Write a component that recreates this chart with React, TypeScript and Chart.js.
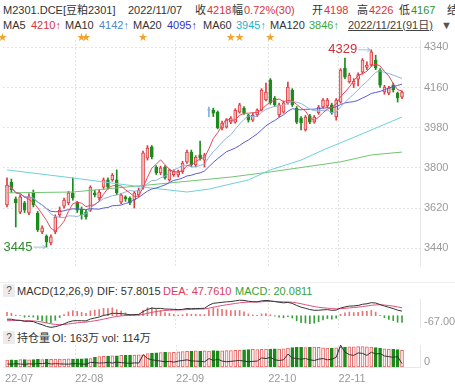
import React, { useEffect, useRef } from 'react';
import { Chart, registerables } from 'chart.js';
Chart.register(...registerables);

const FONT = '"Liberation Sans", Arial, "Noto Sans CJK SC", sans-serif';

// ---------- data ----------
const OPEN = [3634,3737,3661,3602,3643,3598,3688,3598,3513,3495, 3464,3513,3589,3629,3643,3688,3643,3615,3602,3611, 3688,3665,3714,3746,3746,3746,3647,3670,3665,3656, 3679,3714,3844,3894,3804,3777,3804,3746,3770,3768, 3782,3826,3871,3813,3858,3835,4059,4059,4050,3979, 3983,4005,4005,4050,4068,4037,4014,4037,4059,4104, 4194,4113,4037,4050,4091,4149,4068,4023,3970,4032, 4005,4046,4073,4078,4082,4028,4095,4247,4185,4175, 4198,4229,4250,4261,4283,4238,4140,4135,4171,4135, 4117];
const HIGH = [3755,3750,3670,3680,3650,3685,3701,3605,3540,3500, 3500,3590,3625,3665,3695,3755,3650,3625,3610,3720, 3700,3700,3755,3755,3775,3791,3685,3675,3670,3695, 3710,3875,3900,3900,3810,3808,3810,3795,3792,3790, 3830,3880,3880,3855,3920,3865,4073,4068,4055,4010, 4020,4030,4065,4090,4075,4040,4045,4065,4155,4180, 4200,4120,4090,4100,4185,4155,4075,4030,4035,4040, 4035,4080,4110,4112,4090,4110,4245,4292,4225,4200, 4226,4290,4275,4329,4305,4245,4170,4165,4180,4140, 4145];
const LOW = [3625,3690,3535,3595,3600,3590,3625,3515,3505,3445, 3455,3505,3580,3620,3635,3655,3600,3570,3570,3605, 3670,3655,3705,3705,3740,3680,3640,3650,3635,3620, 3670,3705,3835,3840,3770,3770,3750,3740,3762,3760, 3775,3820,3805,3805,3835,3804,4028,4030,3975,3970, 3978,3998,4000,4045,4040,4005,4008,4030,4055,4100, 4085,4075,4030,4045,4085,4075,3998,3970,3965,3998, 4000,4040,4068,4070,4040,4014,4090,4200,4180,4160, 4167,4220,4240,4255,4240,4160,4130,4128,4140,4095, 4110];
const CLOSE = [3723,3701,3643,3670,3611,3670,3634,3522,3531,3468, 3491,3580,3611,3656,3688,3665,3611,3590,3580,3714, 3679,3692,3746,3714,3768,3688,3679,3661,3643,3688, 3701,3867,3889,3849,3777,3800,3755,3791,3785,3782, 3822,3871,3813,3849,3844,3858,4061,4045,3979,4001, 4014,4023,4059,4082,4046,4014,4037,4059,4149,4140, 4091,4082,4082,4091,4162,4082,4005,4001,4028,4005, 4028,4073,4104,4104,4046,4104,4238,4207,4216,4188, 4218,4283,4261,4320,4247,4171,4162,4158,4149,4113, 4140];
// open interest and volume, in 万
const OI = [58,60,59,61,62,60,61,63,62,64, 64,65,66,65,67,66,68,67,69,70, 80,85,88,90,91,92,95,96,98,97, 99,100,108,112,115,117,118,116,119,122, 124,126,128,130,129,131,128,132,130,131, 133,132,135,137,138,140,142,141,143,145, 144,146,145,147,152,155,157,158,156,157, 159,158,154,152,151,153,158,160,162,161, 163,164,162,160,155,150,147,145,142,140, 135];
const VOL = [28,26,30,27,25,29,26,32,30,35, 27,30,28,27,26,30,29,27,26,40, 38,35,36,40,35,42,38,35,33,36, 35,100,70,60,55,50,45,48,42,50, 55,60,52,50,48,45,70,55,65,50, 45,48,52,55,50,45,48,50,75,70, 80,60,55,60,105,75,70,65,70,60, 55,65,70,60,65,80,175,120,100,95, 114,110,95,120,105,110,90,85,80,85, 30];
// long moving averages (index, value)
const MA60_POINTS: [number, number][] = [[0,3791],[15,3755],[31,3714],[41,3692],[46,3705],[51,3728],[55,3746],[60,3791],[67,3835],[72,3880],[80,3945],[90,4028]];
const MA120_POINTS: [number, number][] = [[0,3688],[15,3692],[32,3723],[51,3759],[60,3782],[76,3827],[83,3858],[90,3871]];
const EVENT_STARS = [-1, 17, 18, 31, 51, 53, 60];
const MONTH_LABELS = ['22-07', '22-08', '22-09', '22-10', '22-11'];
const MONTH_START = [0, 16, 39, 60, 76];
const PRICE_TICKS = [3440, 3620, 3800, 3980, 4160, 4340];
const MACD_TICKS = [-67];
const VOL_TICKS = [0];
// indicator state just before the first visible day (estimated)
const MACD_SEED = { ema12: 3725, ema26: 3745, dea: -30 };

// ---------- derived ----------
const N = CLOSE.length;
const IDX = Array.from({ length: N }, (_, i) => i);
const sma = (n: number) => CLOSE.map((_, i) => {
  const s = Math.max(0, i - n + 1);
  let t = 0;
  for (let j = s; j <= i; j++) t += CLOSE[j];
  return t / (i - s + 1);
});
const ema = (src: number[], n: number, seed: number) => {
  const k = 2 / (n + 1);
  let prev = seed;
  return src.map((v) => (prev = prev + k * (v - prev)));
};
const MA5 = sma(5), MA10 = sma(10), MA20 = sma(20);
const EMA12 = ema(CLOSE, 12, MACD_SEED.ema12);
const EMA26 = ema(CLOSE, 26, MACD_SEED.ema26);
const DIF = EMA12.map((v, i) => v - EMA26[i]);
const DEA = ema(DIF, 9, MACD_SEED.dea);
const HIST = DIF.map((v, i) => 2 * (v - DEA[i]));

const UP = '#e0393e', UP_FILL = '#f7c4c4', DOWN = '#1d8b1d', FLAT = '#7db3d6';
const dir = (i: number) => (Math.abs(CLOSE[i] - OPEN[i]) <= 2 ? 0 : CLOSE[i] > OPEN[i] ? 1 : -1);
const lineColor = (i: number) => (dir(i) === 0 ? FLAT : dir(i) > 0 ? UP : DOWN);

const X_MIN = -0.91, X_MAX = 94.1;
const GRID = '#e4e4e4';

const xScale = (showLabels: boolean) => ({
  type: 'linear',
  min: X_MIN,
  max: X_MAX,
  offset: false,
  afterBuildTicks: (axis: any) => { axis.ticks = MONTH_START.map((i) => ({ value: i - 0.5 })); },
  grid: { offset: false, drawTicks: false, color: (c: any) => (c.index === 0 ? 'rgba(0,0,0,0)' : GRID) },
  border: { display: true, color: '#e8e8e8', dash: [2, 2] },
  ticks: {
    display: showLabels, autoSkip: false, maxRotation: 0, align: 'start', padding: 5,
    color: '#9a9a9a', font: { size: 11, family: FONT },
    callback: (_v: any, i: number) => MONTH_LABELS[i],
  },
});

const yScale = (min: number, max: number, ticks: number[], fmt: (v: number) => string, labelOffset = 0) => ({
  position: 'right',
  min, max,
  afterBuildTicks: (axis: any) => { axis.ticks = ticks.map((v) => ({ value: v })); },
  afterFit: (s: any) => { s.width = 35; s.paddingTop = 0; s.paddingBottom = 0; },
  grid: { drawTicks: false, color: GRID },
  border: { display: true, color: '#e6e6e6', dash: [2, 2] },
  ticks: { padding: 4, color: '#9a9a9a', font: { size: 11, family: FONT }, labelOffset, callback: (v: any) => fmt(Number(v)) },
});

const baseOpts = (padTop: number) => ({
  responsive: false,
  animation: false,
  events: [],
  layout: { padding: { left: 3, top: padTop, right: 0, bottom: 0 } },
  plugins: { legend: { display: false }, tooltip: { enabled: false } },
});

const decorPlugin = {
  id: 'decor',
  afterDatasetsDraw(chart: any) {
    const { ctx, chartArea, scales: { x, y } } = chart;
    ctx.save();
    let hi = 0, lo = 0;
    for (let i = 1; i < N; i++) {
      if (HIGH[i] > HIGH[hi]) hi = i;
      if (LOW[i] < LOW[lo]) lo = i;
    }
    const mark = (i: number, v: number, color: string) => {
      const px = x.getPixelForValue(i) - 1, py = y.getPixelForValue(v);
      ctx.strokeStyle = '#9cc0de';
      ctx.lineWidth = 1;
      ctx.beginPath(); ctx.moveTo(px - 12, py); ctx.lineTo(px, py); ctx.stroke();
      ctx.beginPath(); ctx.moveTo(px - 3, py - 2); ctx.lineTo(px, py); ctx.lineTo(px - 3, py + 2); ctx.stroke();
      ctx.fillStyle = color;
      ctx.font = `13px ${FONT}`;
      ctx.textAlign = 'right';
      ctx.textBaseline = 'middle';
      ctx.fillText(String(v), px - 13, py);
    };
    mark(hi, HIGH[hi], '#cf2f36');
    mark(lo, LOW[lo], '#2d8a2d');
    ctx.fillStyle = '#f3a32a';
    ctx.font = `9px "Noto Sans CJK SC", sans-serif`;
    ctx.textAlign = 'center';
    ctx.textBaseline = 'middle';
    EVENT_STARS.forEach((i) => ctx.fillText('★', x.getPixelForValue(i), chartArea.top - 3));
    ctx.restore();
  },
};

const maLine = (data: any[], color: string) => ({
  type: 'line', data, borderColor: color, borderWidth: 1, pointRadius: 0, spanGaps: true, order: 1, tension: 0,
});

function mainConfig(): any {
  return {
    type: 'bar',
    data: {
      datasets: [
        maLine(IDX.map((i) => ({ x: i, y: MA5[i] })), '#e5485e'),
        maLine(IDX.map((i) => ({ x: i, y: MA10[i] })), '#8fb3dc'),
        maLine(IDX.map((i) => ({ x: i, y: MA20[i] })), '#5a5ad8'),
        maLine(MA60_POINTS.map(([i, v]) => ({ x: i, y: v })), '#6fd0d8'),
        maLine(MA120_POINTS.map(([i, v]) => ({ x: i, y: v })), '#72c472'),
        {
          type: 'bar', order: 2, grouped: false, barThickness: 3, borderWidth: 1, borderSkipped: false,
          data: IDX.map((i) => ({ x: i, y: [OPEN[i], CLOSE[i]] })),
          backgroundColor: IDX.map((i) => (dir(i) > 0 ? UP_FILL : lineColor(i))),
          borderColor: IDX.map((i) => lineColor(i)),
        },
        {
          type: 'bar', order: 3, grouped: false, barThickness: 1, borderWidth: 0,
          data: IDX.map((i) => ({ x: i, y: [LOW[i], HIGH[i]] })),
          backgroundColor: IDX.map((i) => lineColor(i)),
        },
      ],
    },
    options: {
      ...baseOpts(10),
      scales: {
        x: xScale(false),
        y: yScale(3356, 4373, PRICE_TICKS, (v) => String(v)),
      },
    },
    plugins: [decorPlugin],
  };
}

function macdConfig(): any {
  const dmax = Math.max(...DIF, ...DEA);
  return {
    type: 'bar',
    data: {
      datasets: [
        { type: 'line', order: 1, data: IDX.map((i) => ({ x: i, y: DIF[i] })), borderColor: '#333', borderWidth: 1, pointRadius: 0 },
        { type: 'line', order: 2, data: IDX.map((i) => ({ x: i, y: DEA[i] })), borderColor: '#e0507a', borderWidth: 1, pointRadius: 0 },
        {
          type: 'bar', order: 3, grouped: false, barThickness: 1,
          data: IDX.map((i) => ({ x: i, y: HIST[i] })),
          backgroundColor: IDX.map((i) => (HIST[i] >= 0 ? '#e77575' : '#3aa23a')),
        },
      ],
    },
    options: {
      ...baseOpts(2),
      scales: {
        x: xScale(false),
        y: yScale(MACD_TICKS[0], dmax * 1.08, MACD_TICKS, (v) => v.toFixed(2), -6),
      },
    },
  };
}

function volConfig(): any {
  return {
    type: 'bar',
    data: {
      datasets: [
        { type: 'line', order: 1, data: IDX.map((i) => ({ x: i, y: VOL[i] })), borderColor: '#333', borderWidth: 1, pointRadius: 0 },
        {
          type: 'bar', order: 2, grouped: false, barThickness: 3, borderWidth: 1, borderSkipped: false,
          data: IDX.map((i) => ({ x: i, y: OI[i] })),
          backgroundColor: IDX.map((i) => (dir(i) >= 0 ? '#fff4f4' : '#1a8a1a')),
          borderColor: IDX.map((i) => (dir(i) >= 0 ? '#e86464' : '#1a8a1a')),
        },
      ],
    },
    options: {
      ...baseOpts(2),
      scales: {
        x: xScale(true),
        y: yScale(0, 176, VOL_TICKS, (v) => String(v), -6),
      },
    },
  };
}

type TextItem = [string, number, string?, boolean?];
const RED = '#d5343b', GREEN = '#2e952e';

const LINE1: TextItem[] = [
  ['M2301.DCE[豆粕2301]', 3], ['2022/11/07', 128], ['收', 195], ['4218', 207, RED],
  ['幅', 232], ['0.72%(30)', 244, RED], ['开', 312], ['4198', 324, RED],
  ['高', 357], ['4226', 369, RED], ['低', 399], ['4167', 411, GREEN], ['结', 447],
];
const LINE2: TextItem[] = [
  ['MA5', 3], ['4210↑', 31, RED], ['MA10', 65], ['4142↑', 99, '#4f86c6'],
  ['MA20', 133], ['4095↑', 167, '#3434cc'], ['MA60', 203], ['3945↑', 236, '#1ab3c9'],
  ['MA120', 270], ['3846↑', 309, '#38a838'], ['2022/11/21(91日)', 348, '#444', true], ['▼', 441, '#555'],
];
const MACD_HEAD: TextItem[] = [
  ['MACD(12,26,9)', 17], ['DIF: 57.8015', 97], ['DEA: 47.7610', 163, '#dc3d5e'], ['MACD: 20.0811', 235, '#36a336'],
];
const VOL_HEAD: TextItem[] = [['持仓量', 17], ['OI: 163万', 52], ['vol: 114万', 102]];

function TextRow({ items, top, size = 11 }: { items: TextItem[]; top: number; size?: number }) {
  return (
    <>
      {items.map(([t, left, color, ul], k) => (
        <div key={k} style={{
          position: 'absolute', left, top, fontSize: size, lineHeight: '14px', whiteSpace: 'nowrap',
          color: color || '#333', textDecoration: ul ? 'underline' : 'none',
        }}>{t}</div>
      ))}
    </>
  );
}

function Help({ top }: { top: number }) {
  return (
    <div style={{
      position: 'absolute', left: 3, top, width: 12, height: 13, background: '#ececec', color: '#555',
      fontSize: 10, lineHeight: '13px', textAlign: 'center',
    }}>?</div>
  );
}

export default function App() {
  const mainRef = useRef<HTMLCanvasElement>(null);
  const macdRef = useRef<HTMLCanvasElement>(null);
  const volRef = useRef<HTMLCanvasElement>(null);

  useEffect(() => {
    const charts = [
      new Chart(mainRef.current as HTMLCanvasElement, mainConfig()),
      new Chart(macdRef.current as HTMLCanvasElement, macdConfig()),
      new Chart(volRef.current as HTMLCanvasElement, volConfig()),
    ];
    return () => charts.forEach((c) => c.destroy());
  }, []);

  return (
    <div style={{ position: 'fixed', left: 0, top: 0, width: 455, height: 390, background: '#fff', overflow: 'hidden', fontFamily: FONT }}>
      <TextRow items={LINE1} top={3} />
      <TextRow items={LINE2} top={18} />
      <canvas ref={mainRef} width={455} height={237} style={{ position: 'absolute', left: 0, top: 30 }} />
      <div style={{ position: 'absolute', left: 0, top: 282, width: 455, height: 1, background: '#eeeeee' }} />
      <Help top={284} />
      <TextRow items={MACD_HEAD} top={284} />
      <canvas ref={macdRef} width={455} height={31} style={{ position: 'absolute', left: 0, top: 297 }} />
      <Help top={331} />
      <TextRow items={VOL_HEAD} top={331} />
      <canvas ref={volRef} width={455} height={47} style={{ position: 'absolute', left: 0, top: 343 }} />
    </div>
  );
}
